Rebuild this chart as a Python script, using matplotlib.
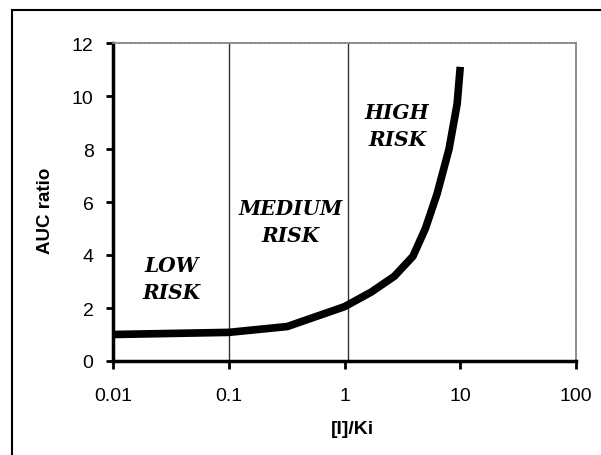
import matplotlib
matplotlib.use("Agg")
import matplotlib.pyplot as plt
from matplotlib.lines import Line2D

# Data
ratio_x = [0.01, 0.1, 0.32, 1.0, 1.7, 2.7, 3.9, 5.0, 6.3, 8.0, 9.4, 10.0]
auc_y = [1.0, 1.08, 1.3, 2.05, 2.6, 3.2, 3.95, 5.0, 6.3, 8.0, 9.7, 11.1]
boundaries = [0.1, 1.08]
x_ticks = [0.01, 0.1, 1, 10, 100]
x_tick_labels = ["0.01", "0.1", "1", "10", "100"]
y_ticks = [0, 2, 4, 6, 8, 10, 12]
risk_labels = ["LOW\nRISK", "MEDIUM\nRISK", "HIGH\nRISK"]
risk_label_x = [0.032, 0.34, 2.85]
risk_label_y = [3.11, 5.25, 8.9]

plt.rcParams['font.family'] = ['Liberation Sans', 'DejaVu Sans']

fig = plt.figure(figsize=(6.01, 4.56), dpi=100)
ax = fig.add_axes([113/601, 1-362/456, (576-113)/601, (362-44)/456])

ax.plot(ratio_x, auc_y, color='black', lw=5.5, solid_capstyle='butt',
        solid_joinstyle='round', zorder=3)
for b in boundaries:
    ax.axvline(b, color='#333333', lw=1.0, zorder=2)

ax.set_xscale('log')
ax.set_xlim(0.01, 100)
ax.set_ylim(0, 12)
ax.set_xticks(x_ticks)
ax.set_xticklabels(x_tick_labels)
ax.minorticks_off()
ax.set_yticks(y_ticks)
ax.tick_params(axis='both', labelsize=14, width=2, direction='out')
ax.tick_params(axis='x', length=6, pad=13)
ax.tick_params(axis='y', length=5, pad=9)

for s in ['left', 'bottom']:
    ax.spines[s].set_linewidth(2.5)
for s in ['top', 'right']:
    ax.spines[s].set_linewidth(1.2)
    ax.spines[s].set_color('#888888')
    ax.spines[s].set_linestyle((0, (1, 0.5)))

ax.set_ylabel("AUC ratio", fontsize=13.5, fontweight='bold', va='center')
ax.yaxis.set_label_coords((46-113)/463, (362-211)/318)
ax.set_xlabel("[I]/Ki", fontsize=14, fontweight='bold', va='center')
ax.xaxis.set_label_coords((352-113)/463, (362-430)/318)

for lab, lx, ly in zip(risk_labels, risk_label_x, risk_label_y):
    ax.text(lx, ly, lab, ha='center', va='center', fontsize=14.5,
            family='DejaVu Serif', fontweight='bold', style='italic',
            linespacing=1.45)

# figure frame (left and top edges)
fig.add_artist(Line2D([12/601, 12/601], [0, 1-11/456], color='black', lw=1.5,
                      transform=fig.transFigure))
fig.add_artist(Line2D([12/601, 1], [1-11/456, 1-11/456], color='black', lw=1.5,
                      transform=fig.transFigure))

fig.savefig("out.png", dpi=100)
